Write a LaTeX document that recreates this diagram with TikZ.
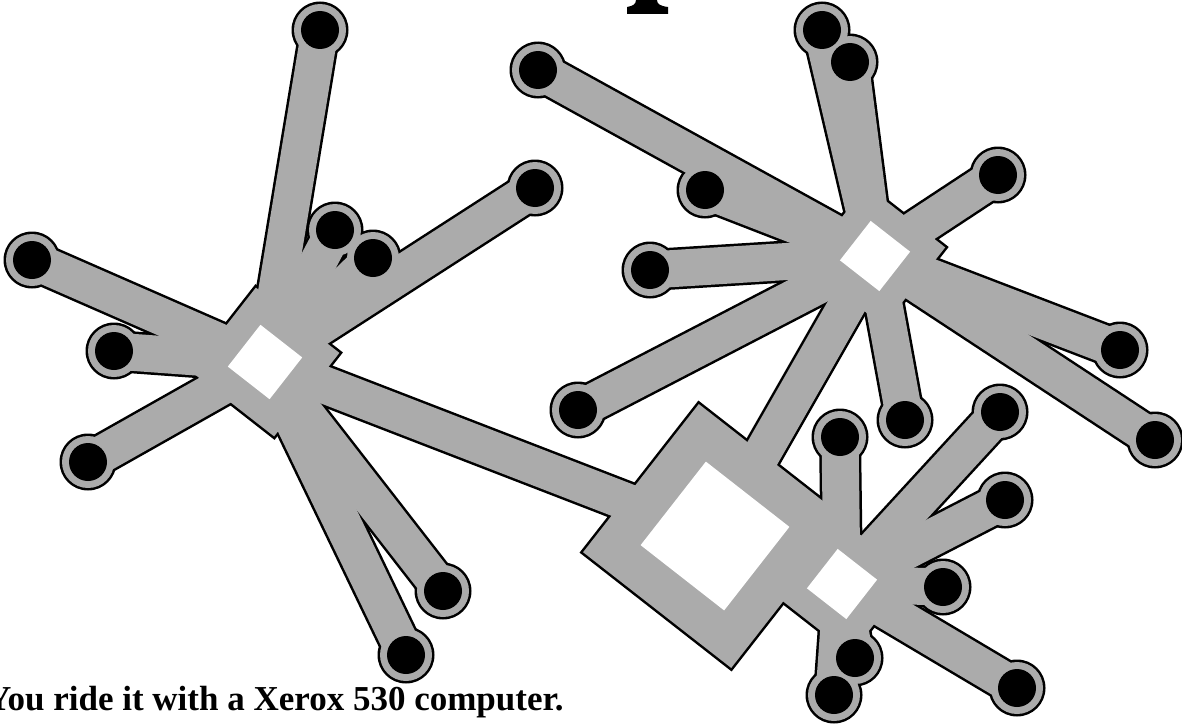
\documentclass[tikz,border=0pt]{standalone}
\usepackage{fontspec}
\setmainfont{Liberation Serif}
\usepackage{tikz}
\usetikzlibrary{positioning,backgrounds}
\definecolor{screengrey}{HTML}{ABABAB}
\pgfdeclarelayer{inkline}
\pgfsetlayers{inkline,background,main}

\begin{document}
\begin{tikzpicture}[x=1pt, y=-1pt,
    term/.style={circle, fill=black, minimum size=38pt, inner sep=0pt},
    hub/.style={rectangle, fill=white, rotate=-38, inner sep=0pt, minimum size=#1},
    pad/.style={rectangle, rotate=-38, inner sep=0pt, minimum size=#1},
    spoke/.style={line width=37pt, screengrey},
    spokeink/.style={line width=42pt, black}]
  \useasboundingbox (0,0) rectangle (1182,725);

  % hubs
  \node[hub=53pt]  (h1) at (265,362) {};
  \node[hub=50pt]  (h2) at (875,256) {};
  \node[hub=106pt] (h3) at (715,536) {};
  \node[hub=50pt]  (h4) at (842,584) {};

  % terminals, left star
  \node[term] (t1a) at (320,30) {};
  \node[term] (t1b) at (535,188) {};
  \node[term] (t1c) at (335,230) {};
  \node[term] (t1d) at (373,258) {};
  \node[term] (t1e) at (32,260) {};
  \node[term] (t1f) at (114,351) {};
  \node[term] (t1g) at (88,462) {};
  \node[term] (t1h) at (443,591) {};
  \node[term] (t1i) at (406,655) {};
  % terminals, right star
  \node[term] (t2a) at (822,30) {};
  \node[term] (t2b) at (850,62) {};
  \node[term] (t2c) at (538,70) {};
  \node[term] (t2d) at (705,190) {};
  \node[term] (t2e) at (998,175) {};
  \node[term] (t2f) at (650,270) {};
  \node[term] (t2g) at (1120,350) {};
  \node[term] (t2h) at (1155,440) {};
  \node[term] (t2i) at (578,410) {};
  \node[term] (t2j) at (905,420) {};
  % terminals, small hub
  \node[term] (t4a) at (840,437) {};
  \node[term] (t4b) at (1000,412) {};
  \node[term] (t4c) at (1005,500) {};
  \node[term] (t4d) at (943,587) {};
  \node[term] (t4e) at (1017,688) {};
  \node[term] (t4f) at (855,658) {};
  \node[term] (t4g) at (834,695) {};

  \node[anchor=base west, inner sep=0pt, font=\bfseries\fontsize{35}{40}\selectfont]
       (caption) at (-14,710) {You ride it with a Xerox 530 computer.};

  % foot of a letter from the cut-off headline
  \fill (636,0) -- (657,0) .. controls (657,4) and (660,6) .. (668,7)
        -- (668,14) -- (627,14) -- (627,7) .. controls (633,6) and (636,4) .. (636,0) -- cycle;

  % black rim under everything
  \begin{pgfonlayer}{inkline}
    \foreach \a/\b in {h1/t1a,h1/t1b,h1/t1c,h1/t1d,h1/t1e,h1/t1f,h1/t1g,h1/t1h,h1/t1i,
                       h2/t2a,h2/t2b,h2/t2c,h2/t2d,h2/t2e,h2/t2f,h2/t2g,h2/t2h,h2/t2i,h2/t2j,
                       h4/t4a,h4/t4b,h4/t4c,h4/t4d,h4/t4e,h4/t4f,h4/t4g,h1/h3,h2/h3,h3/h4}
      \draw[spokeink] (\a.center) -- (\b.center);
    \foreach \t in {t1a,t1b,t1c,t1d,t1e,t1f,t1g,t1h,t1i,t2a,t2b,t2c,t2d,t2e,t2f,t2g,t2h,t2i,t2j,
                    t4a,t4b,t4c,t4d,t4e,t4f,t4g}
      \fill (\t.center) circle (28.5pt);
    \foreach \h/\s in {h1/111,h2/105,h3/193,h4/105}
      \node[pad=\s pt, fill=black] (\h ink) at (\h) {};
  \end{pgfonlayer}

  % screened grey body
  \begin{pgfonlayer}{background}
    \foreach \a/\b in {h1/t1a,h1/t1b,h1/t1c,h1/t1d,h1/t1e,h1/t1f,h1/t1g,h1/t1h,h1/t1i,
                       h2/t2a,h2/t2b,h2/t2c,h2/t2d,h2/t2e,h2/t2f,h2/t2g,h2/t2h,h2/t2i,h2/t2j,
                       h4/t4a,h4/t4b,h4/t4c,h4/t4d,h4/t4e,h4/t4f,h4/t4g,h1/h3,h2/h3,h3/h4}
      \draw[spoke] (\a.center) -- (\b.center);
    \foreach \t in {t1a,t1b,t1c,t1d,t1e,t1f,t1g,t1h,t1i,t2a,t2b,t2c,t2d,t2e,t2f,t2g,t2h,t2i,t2j,
                    t4a,t4b,t4c,t4d,t4e,t4f,t4g}
      \fill[screengrey] (\t.center) circle (26pt);
    \foreach \h/\s in {h1/106,h2/100,h3/188,h4/100}
      \node[pad=\s pt, fill=screengrey] (\h pad) at (\h) {};
  \end{pgfonlayer}
\end{tikzpicture}
\end{document}
